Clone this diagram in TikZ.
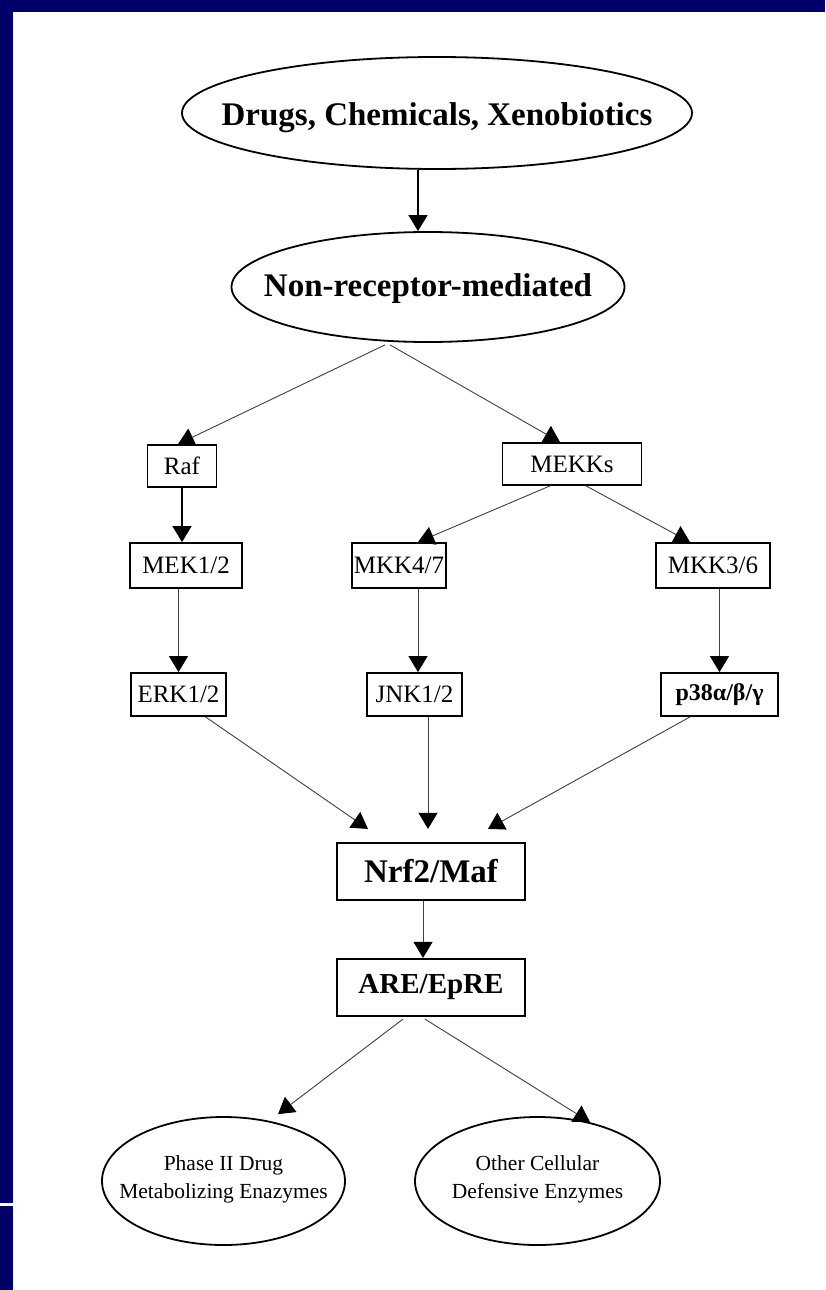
\documentclass[tikz,border=0pt]{standalone}
\usepackage{fontspec}
\setmainfont{Liberation Serif}
\usetikzlibrary{shapes.geometric,arrows.meta,calc}
\definecolor{navy}{RGB}{0,0,104}
\begin{document}
\begin{tikzpicture}[x=1pt,y=-1pt,
  oval/.style={ellipse, draw, line width=1.8pt, inner sep=0pt},
  ovaltxt/.style={font=\fontsize{33}{38}\selectfont\bfseries},
  smalltxt/.style={font=\fontsize{21.5}{28}\selectfont, align=center},
  box/.style={rectangle, draw, line width=1.8pt, inner sep=0pt, font=\fontsize{25}{29}\selectfont},
  bigbox/.style={rectangle, draw, line width=2.2pt, inner sep=0pt, font=\fontsize{33}{38}\selectfont\bfseries},
  arr/.style={draw=black!75, line width=0.9pt, -{Triangle[width=19pt,length=16pt,color=black]}},
  darr/.style={arr, draw=black, line width=1.4pt}
]
\useasboundingbox (0,0) rectangle (825,1290);
\fill[white] (0,0) rectangle (825,1290);
% slide frame
\fill[navy] (0,0) rectangle (825,12);
\fill[navy] (0,0) rectangle (13,1290);
\fill[white] (0,1203) rectangle (13,1206);

% ovals
\node[oval, minimum width=510pt, minimum height=112pt,
      label={[ovaltxt, yshift=-5pt]center:Drugs, Chemicals, Xenobiotics}] (drugs) at (437,113) {};
\node[oval, minimum width=393pt, minimum height=110pt,
      label={[ovaltxt, yshift=-2pt]center:Non-receptor-mediated}] (nonrec) at (428,287) {};

% kinase boxes
\node[box, minimum width=69pt, minimum height=42pt] (raf) at (182,466) {Raf};
\node[box, minimum width=139pt, minimum height=42pt] (mekks) at (572,464) {MEKKs};
\node[box, minimum width=112pt, minimum height=45pt] (mek) at (186,565.5) {MEK1/2};
\node[box, minimum width=94pt, minimum height=45pt] (mkk47) at (399,565.5) {MKK4/7};
\node[box, minimum width=114pt, minimum height=45pt] (mkk36) at (713,565.5) {MKK3/6};
\node[box, minimum width=95pt, minimum height=43pt] (erk) at (178.5,694.5) {ERK1/2};
\node[box, minimum width=95pt, minimum height=43pt] (jnk) at (414.5,694.5) {JNK1/2};
\node[box, minimum width=117pt, minimum height=43pt, font=\fontsize{24}{28}\selectfont\bfseries] (p38) at (719.5,694.5) {p38α/β/γ};

% transcription factor and response element
\node[bigbox, minimum width=188pt, minimum height=57pt] (nrf) at (431,871.5) {Nrf2/Maf};
\node[bigbox, minimum width=188pt, minimum height=57pt, font=\fontsize{29}{34}\selectfont\bfseries] (are) at (431,987.5) {ARE/EpRE};

% outcome ovals
\node[oval, minimum width=243pt, minimum height=128pt,
      label={[smalltxt, yshift=2pt]center:Phase II Drug\\Metabolizing Enazymes}] (phase) at (223.5,1181) {};
\node[oval, minimum width=245pt, minimum height=128pt,
      label={[smalltxt, yshift=2pt]center:Other Cellular\\Defensive Enzymes}] (other) at (537.5,1181) {};

% connectors
\draw[darr] ($(drugs.south)+(-19,0)$) -- ($(nonrec.north)+(-10,0)$);
\draw[arr] ($(nonrec.south)+(-43,2)$) -- ($(raf.north)+(-4,0)$);
\draw[arr] ($(nonrec.south)+(-38,2)$) -- ($(mekks.north)+(-12,0)$);
\draw[darr] (raf.south) -- (raf.south |- mek.north);
\draw[arr] ($(mekks.south)+(-22,0)$) -- ($(mkk47.north)+(19,0)$);
\draw[arr] ($(mekks.south)+(14,0)$) -- ($(mkk36.north)+(-23,0)$);
\draw[arr] (erk.north |- mek.south) -- (erk.north);
\draw[arr] ($(jnk.north |- mkk47.south)+(3.5,0)$) -- ($(jnk.north)+(3.5,0)$);
\draw[arr] (p38.north |- mkk36.south) -- (p38.north);
\draw[arr] ($(erk.south)+(27,0)$) -- ($(nrf.north)+(-63,-13)$);
\draw[arr] ($(jnk.south)+(13.5,0)$) -- ($(nrf.north)+(-3,-13)$);
\draw[arr] ($(p38.south)+(-29.5,0)$) -- ($(nrf.north)+(57,-13)$);
\draw[arr] ($(nrf.south)+(-8,0)$) -- ($(are.north)+(-8,0)$);
\draw[arr] ($(are.south)+(-28,2)$) -- ($(phase.north)+(54.5,-2)$);
\draw[arr] ($(are.south)+(-6,2)$) -- ($(other.north)+(52.5,6)$);
\end{tikzpicture}
\end{document}
